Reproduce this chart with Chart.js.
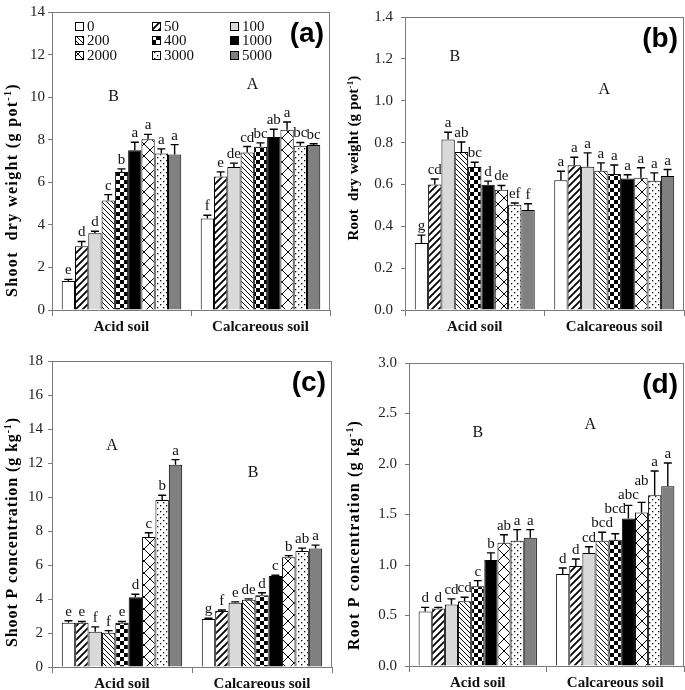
<!DOCTYPE html>
<html>
<head>
<meta charset="utf-8">
<script src="https://cdn.jsdelivr.net/npm/chart.js@4.4.1/dist/chart.umd.min.js"></script>
<style>
  body { margin: 0; background: #fff; }
  #wrap { position: relative; width: 685px; height: 690px; overflow: hidden; background: #fff; }
  canvas { position: absolute; }
</style>
</head>
<body>
<div id="wrap">
  <canvas id="pa" width="342" height="345" style="left:0;top:0"></canvas>
  <canvas id="pb" width="343" height="345" style="left:342px;top:0"></canvas>
  <canvas id="pc" width="342" height="345" style="left:0;top:345px"></canvas>
  <canvas id="pd" width="343" height="345" style="left:342px;top:345px"></canvas>
</div>
<script>
const SERIF = "'Liberation Serif', 'Times New Roman', serif";
Chart.defaults.font.family = SERIF;
Chart.defaults.color = '#222';

const soils = ["Acid soil", "Calcareous soil"];
const rates = ["0", "50", "100", "200", "400", "1000", "2000", "3000", "5000"];

// (a) shoot dry weight (g pot-1)
const shootDwAcid = [1.36, 3.0, 3.6, 5.15, 6.48, 7.5, 8.02, 7.35, 7.3];
const shootDwAcidErr = [0.08, 0.22, 0.1, 0.27, 0.15, 0.38, 0.23, 0.22, 0.47];
const shootDwAcidLet = ["e", "d", "d", "c", "b", "a", "a", "a", "a"];
const shootDwCalc = [4.3, 6.27, 6.72, 7.4, 7.67, 8.13, 8.47, 7.72, 7.75];
const shootDwCalcErr = [0.15, 0.22, 0.18, 0.28, 0.18, 0.36, 0.36, 0.15, 0.06];
const shootDwCalcLet = ["f", "e", "de", "cd", "bc", "ab", "a", "bc", "bc"];

// (b) root dry weight (g pot-1)
const rootDwAcid = [0.32, 0.6, 0.815, 0.755, 0.683, 0.598, 0.575, 0.503, 0.478];
const rootDwAcidErr = [0.038, 0.026, 0.034, 0.048, 0.023, 0.018, 0.02, 0.008, 0.03];
const rootDwAcidLet = ["g", "cd", "a", "ab", "bc", "d", "de", "ef", "f"];
const rootDwCalc = [0.62, 0.692, 0.685, 0.665, 0.65, 0.628, 0.632, 0.618, 0.64];
const rootDwCalcErr = [0.043, 0.038, 0.066, 0.038, 0.043, 0.018, 0.048, 0.037, 0.031];
const rootDwCalcLet = ["a", "a", "a", "a", "a", "a", "a", "a", "a"];

// (c) shoot P concentration (g kg-1)
const shootPAcid = [2.6, 2.6, 2.08, 2.02, 2.6, 4.1, 7.65, 9.82, 11.9];
const shootPAcidErr = [0.12, 0.08, 0.28, 0.12, 0.08, 0.18, 0.25, 0.28, 0.3];
const shootPAcidLet = ["e", "e", "f", "f", "e", "d", "c", "b", "a"];
const shootPCalc = [2.82, 3.3, 3.78, 3.95, 4.22, 5.35, 6.45, 6.82, 6.97];
const shootPCalcErr = [0.05, 0.05, 0.05, 0.06, 0.15, 0.05, 0.1, 0.17, 0.2];
const shootPCalcLet = ["g", "f", "e", "de", "d", "c", "b", "ab", "a"];

// (d) root P concentration (g kg-1)
const rootPAcid = [0.54, 0.57, 0.61, 0.64, 0.79, 1.05, 1.22, 1.24, 1.27];
const rootPAcidErr = [0.04, 0.01, 0.055, 0.04, 0.055, 0.07, 0.08, 0.11, 0.08];
const rootPAcidLet = ["d", "d", "cd", "cd", "c", "b", "ab", "a", "a"];
const rootPCalc = [0.91, 0.99, 1.12, 1.24, 1.25, 1.46, 1.52, 1.69, 1.78];
const rootPCalcErr = [0.06, 0.07, 0.06, 0.085, 0.06, 0.13, 0.1, 0.24, 0.23];
const rootPCalcLet = ["d", "d", "cd", "bcd", "bcd", "abc", "ab", "a", "a"];

// fill patterns, one per P rate
function pattern(size, draw) {
  const c = document.createElement('canvas');
  c.width = c.height = size;
  const g = c.getContext('2d');
  g.fillStyle = '#fff';
  g.fillRect(0, 0, size, size);
  g.strokeStyle = '#000';
  g.fillStyle = '#000';
  draw(g, size);
  return g.createPattern(c, 'repeat');
}
function slash(g, s, w) {
  g.lineWidth = w;
  g.beginPath();
  g.moveTo(0, s); g.lineTo(s, 0);
  g.moveTo(-2, 2); g.lineTo(2, -2);
  g.moveTo(s - 2, s + 2); g.lineTo(s + 2, s - 2);
  g.stroke();
}
function backslash(g, s, w) {
  g.lineWidth = w;
  g.beginPath();
  g.moveTo(0, 0); g.lineTo(s, s);
  g.moveTo(-2, s - 2); g.lineTo(2, s + 2);
  g.moveTo(s - 2, -2); g.lineTo(s + 2, 2);
  g.stroke();
}
const fills = [
  '#ffffff',
  pattern(7, (g, s) => slash(g, s, 1.8)),
  '#d9d9d9',
  pattern(5, (g, s) => backslash(g, s, 1)),
  pattern(8, (g) => { g.fillRect(0, 0, 4, 4); g.fillRect(4, 4, 4, 4); }),
  '#000000',
  pattern(12, (g, s) => { slash(g, s, 1); backslash(g, s, 1); }),
  pattern(6, (g) => { g.fillRect(1, 1, 1.3, 1.3); g.fillRect(4, 4, 1.3, 1.3); }),
  '#808080'
];

const framePlugin = {
  id: 'frame',
  afterDatasetsDraw(chart) {
    const { ctx, chartArea: a } = chart;
    ctx.save();
    ctx.strokeStyle = '#7a7a7a';
    ctx.lineWidth = 1;
    ctx.strokeRect(a.left + 0.5, a.top + 0.5, a.right - a.left - 1, a.bottom - a.top);
    ctx.restore();
  }
};

// error bars (upper half only) plus the letter of each bar;
// a letter that would run into its left neighbour is lifted above it
const errorPlugin = {
  id: 'errs',
  afterDatasetsDraw(chart) {
    const { ctx } = chart;
    const y = chart.scales.y;
    const sets = chart.data.datasets;
    ctx.save();
    ctx.strokeStyle = '#000';
    ctx.lineWidth = 1.4;
    ctx.fillStyle = '#111';
    ctx.font = '15px ' + SERIF;
    ctx.textAlign = 'center';
    ctx.textBaseline = 'alphabetic';
    chart.data.labels.forEach((lab, j) => {
      let prev = null;
      sets.forEach((ds, i) => {
        const bar = chart.getDatasetMeta(i).data[j];
        const top = y.getPixelForValue(ds.data[j] + ds.errors[j]);
        ctx.beginPath();
        ctx.moveTo(bar.x, bar.y);
        ctx.lineTo(bar.x, top);
        ctx.moveTo(bar.x - 4, top);
        ctx.lineTo(bar.x + 4, top);
        ctx.stroke();
        const w = ctx.measureText(ds.letters[j]).width;
        let base = top - 5;
        if (prev && bar.x - w / 2 < prev.right - 3 && base > prev.base - 14) {
          base = prev.base - 14;
        }
        ctx.fillText(ds.letters[j], bar.x, base);
        prev = { right: bar.x + w / 2, base };
      });
    });
    ctx.restore();
  }
};

const decorPlugin = {
  id: 'decor',
  afterDraw(chart, args, o) {
    const { ctx, chartArea: a } = chart;
    const x = chart.scales.x, y = chart.scales.y;
    ctx.save();
    // group letters
    ctx.fillStyle = '#111';
    ctx.font = '16px ' + SERIF;
    ctx.textAlign = 'center';
    ctx.textBaseline = 'middle';
    o.groups.forEach((gr, i) => {
      ctx.fillText(gr.text, x.getPixelForValue(i) + gr.dx, y.getPixelForValue(gr.y));
    });
    // panel tag
    ctx.fillStyle = '#000';
    ctx.font = 'bold 28px "Liberation Sans", Arial, sans-serif';
    ctx.textAlign = 'right';
    ctx.fillText(o.tag, a.right - 6, a.top + 22);
    // y title with superscript, letter-spaced out to its length in the figure
    const size = o.titleSize;
    const fMain = 'bold ' + size + 'px ' + SERIF;
    const fSup = 'bold ' + Math.round(size * 0.62) + 'px ' + SERIF;
    ctx.letterSpacing = '0px';
    ctx.font = fMain;
    const n1 = ctx.measureText(o.title[0]).width;
    const n3 = ctx.measureText(o.title[2]).width;
    ctx.font = fSup;
    const n2 = ctx.measureText(o.title[1]).width;
    const chars = o.title[0].length + o.title[1].length + o.title[2].length;
    const ls = Math.max(0, (o.titleLen - n1 - n2 - n3) / chars);
    const w1 = n1 + ls * o.title[0].length;
    const w2 = n2 + ls * o.title[1].length;
    const w3 = n3 + ls * o.title[2].length;
    const total = w1 + w2 + w3;
    ctx.translate(o.titleX, o.titleY);
    ctx.rotate(-Math.PI / 2);
    ctx.letterSpacing = ls.toFixed(2) + 'px';
    ctx.textAlign = 'left';
    ctx.textBaseline = 'alphabetic';
    const base = size * 0.35;
    let px = -total / 2;
    ctx.font = fMain;
    ctx.fillText(o.title[0], px, base);
    px += w1;
    ctx.font = fSup;
    ctx.fillText(o.title[1], px, base - size * 0.38);
    px += w2;
    ctx.font = fMain;
    ctx.fillText(o.title[2], px, base);
    ctx.restore();
  }
};

const legendPlugin = {
  id: 'box',
  afterDraw(chart) {
    const { ctx, chartArea: a } = chart;
    const cols = [23, 100, 178];
    const rows = [14, 28, 43];
    ctx.save();
    ctx.font = '15px ' + SERIF;
    ctx.textBaseline = 'middle';
    ctx.textAlign = 'left';
    chart.data.datasets.forEach((ds, i) => {
      const bx = a.left + cols[i % 3];
      const by = a.top + rows[Math.floor(i / 3)];
      ctx.fillStyle = ds.backgroundColor;
      ctx.fillRect(bx, by - 4, 9, 9);
      ctx.strokeStyle = '#000';
      ctx.lineWidth = 1;
      ctx.strokeRect(bx + 0.5, by - 3.5, 8, 8);
      ctx.fillStyle = '#111';
      ctx.fillText(ds.label, bx + 12, by + 1);
    });
    ctx.restore();
  }
};

function drawPanel(id, cfg) {
  const datasets = rates.map((r, i) => ({
    label: r,
    data: [cfg.acid[i], cfg.calc[i]],
    errors: [cfg.acidErr[i], cfg.calcErr[i]],
    letters: [cfg.acidLet[i], cfg.calcLet[i]],
    backgroundColor: fills[i],
    borderColor: '#000',
    borderWidth: 1,
    categoryPercentage: 0.86,
    barPercentage: 1.0
  }));
  const plugins = [framePlugin, errorPlugin, decorPlugin];
  if (cfg.legend) plugins.push(legendPlugin);
  new Chart(document.getElementById(id), {
    type: 'bar',
    data: { labels: soils, datasets },
    options: {
      responsive: false,
      animation: false,
      layout: { padding: cfg.pad },
      plugins: {
        legend: { display: false },
        tooltip: { enabled: false },
        decor: { groups: cfg.groups, tag: cfg.tag, title: cfg.title, titleSize: cfg.titleSize, titleLen: cfg.titleLen, titleX: 11, titleY: cfg.titleY }
      },
      scales: {
        x: {
          grid: { offset: true, drawOnChartArea: false, tickLength: 6, color: '#7a7a7a' },
          border: { color: '#7a7a7a' },
          ticks: { color: '#111', padding: 2, font: { size: 15, weight: 'bold' } },
          afterFit: s => { s.height = cfg.xh; }
        },
        y: {
          min: 0,
          max: cfg.max,
          ticks: {
            stepSize: cfg.step,
            padding: cfg.tickPad,
            color: '#222',
            font: { size: 15 },
            callback: v => Number(v).toFixed(cfg.dec)
          },
          grid: { drawOnChartArea: false, tickLength: 4, color: '#7a7a7a' },
          border: { color: '#7a7a7a' },
          afterFit: s => { s.width = cfg.yw; }
        }
      }
    },
    plugins
  });
}

drawPanel('pa', {
  acid: shootDwAcid, acidErr: shootDwAcidErr, acidLet: shootDwAcidLet,
  calc: shootDwCalc, calcErr: shootDwCalcErr, calcLet: shootDwCalcLet,
  max: 14, step: 2, dec: 0, tickPad: 3,
  pad: { top: 6, right: 12, left: 0, bottom: 0 }, yw: 52, xh: 35,
  tag: '(a)', title: ['Shoot  dry weight (g pot', '-1', ')'], titleSize: 16, titleLen: 214, titleY: 190,
  groups: [{ text: 'B', y: 10.0, dx: -8 }, { text: 'A', y: 10.57, dx: -8 }],
  legend: true
});

drawPanel('pb', {
  acid: rootDwAcid, acidErr: rootDwAcidErr, acidLet: rootDwAcidLet,
  calc: rootDwCalc, calcErr: rootDwCalcErr, calcLet: rootDwCalcLet,
  max: 1.4, step: 0.2, dec: 1, tickPad: 8,
  pad: { top: 6, right: 1, left: 0, bottom: 0 }, yw: 63, xh: 35,
  tag: '(b)', title: ['Root  dry weight (g pot', '-1', ')'], titleSize: 15, titleLen: 165, titleY: 158,
  groups: [{ text: 'B', y: 1.21, dx: -20 }, { text: 'A', y: 1.05, dx: -10 }]
});

drawPanel('pc', {
  acid: shootPAcid, acidErr: shootPAcidErr, acidLet: shootPAcidLet,
  calc: shootPCalc, calcErr: shootPCalcErr, calcLet: shootPCalcLet,
  max: 18, step: 2, dec: 0, tickPad: 5,
  pad: { top: 16, right: 10, left: 0, bottom: 0 }, yw: 52, xh: 23,
  tag: '(c)', title: ['Shoot P concentration (g kg', '-1', ')'], titleSize: 16, titleLen: 230, titleY: 187,
  groups: [{ text: 'A', y: 13.04, dx: -10 }, { text: 'B', y: 11.45, dx: -9 }]
});

drawPanel('pd', {
  acid: rootPAcid, acidErr: rootPAcidErr, acidLet: rootPAcidLet,
  calc: rootPCalc, calcErr: rootPCalcErr, calcLet: rootPCalcLet,
  max: 3.0, step: 0.5, dec: 1, tickPad: 8,
  pad: { top: 18, right: 1, left: 0, bottom: 0 }, yw: 67, xh: 24,
  tag: '(d)', title: ['Root P concentration (g kg', '-1', ')'], titleSize: 16, titleLen: 230, titleY: 190,
  groups: [{ text: 'B', y: 2.31, dx: 0 }, { text: 'A', y: 2.39, dx: -25 }]
});
</script>
</body>
</html>
